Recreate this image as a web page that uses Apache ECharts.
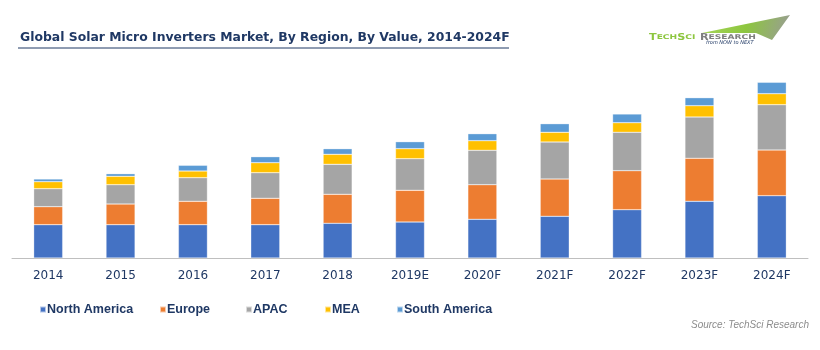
<!DOCTYPE html>
<html lang="en">
<head>
  <meta charset="UTF-8">
  <title>Global Solar Micro Inverters Market</title>
  <script src="https://cdn.jsdelivr.net/npm/echarts@6/dist/echarts.min.js"></script>
  <style>
    html, body { margin: 0; padding: 0; background: #fff; }
  </style>
</head>
<body>
  <div id="main" style="width:820px;height:350px"></div>

  <script>
    // categories and segment values (no axis so relative units)
    var years = ['2014', '2015', '2016', '2017', '2018', '2019E', '2020F', '2021F', '2022F', '2023F', '2024F']
    var northAmerica = [33.3, 33.3, 33.3, 33.3, 34.7, 36.0, 38.7, 41.7, 48.3, 56.7, 62.3]
    var europe = [18.0, 20.7, 23.4, 26.4, 29.0, 31.7, 34.6, 37.3, 39.0, 43.0, 45.7]
    var apac = [18.0, 19.3, 23.6, 25.6, 30.0, 31.6, 34.4, 37.0, 38.4, 41.3, 45.3]
    var mea = [7.0, 8.4, 6.7, 10.0, 10.0, 10.0, 9.6, 9.7, 9.6, 11.3, 11.0]
    var southAmerica = [2.7, 2.6, 5.7, 6.0, 5.6, 7.0, 7.0, 8.6, 8.7, 8.0, 11.4]

    var names = ['North America', 'Europe', 'APAC', 'MEA', 'South America']
    var colors = ['#4472C4', '#ED7D31', '#A5A5A5', '#FFC000', '#5B9BD5']
    var values = [northAmerica, europe, apac, mea, southAmerica]
    var legendLeft = [34, 154, 240, 319, 391]

    var myChart = echarts.init(document.getElementById('main'))

    var series = names.map(function (n, i) {
      return {
        name: n,
        type: 'bar',
        stack: 'total',
        barWidth: 29,
        data: values[i],
        itemStyle: { color: colors[i], borderColor: 'rgba(255,255,255,0.6)', borderWidth: 0.5 }
      }
    })

    // one legend per item so each sits where it does in the picture
    var legends = names.map(function (n, i) {
      return {
        data: [n],
        top: 298,
        left: legendLeft[i],
        itemWidth: 6,
        itemHeight: 6,
        icon: 'rect',
        textStyle: {
          fontFamily: 'Liberation Sans',
          fontSize: 12.5,
          fontWeight: 'bold',
          color: '#1F3864',
          padding: [0, 0, 0, -4]
        }
      }
    })

    var options = {
      animation: false,
      color: colors,
      title: {
        text: 'Global Solar Micro Inverters Market, By Region, By Value, 2014-2024F',
        left: 20,
        top: 31.5,
        padding: 0,
        textStyle: {
          fontFamily: 'DejaVu Sans',
          fontSize: 12.4,
          fontWeight: 'bold',
          color: '#1F3864'
        }
      },
      legend: legends,
      grid: { left: 12, right: 12, top: 58, bottom: 92 },
      xAxis: {
        type: 'category',
        data: years,
        axisLine: { lineStyle: { color: '#BFBFBF' } },
        axisTick: { length: 4, lineStyle: { color: '#BFBFBF' } },
        axisLabel: {
          margin: 12,
          fontFamily: 'DejaVu Sans',
          fontSize: 12,
          color: '#1F3864'
        }
      },
      yAxis: {
        type: 'value',
        min: 0,
        max: 200,
        show: false,
        splitLine: { show: false }
      },
      graphic: [
        // title underline
        { type: 'line', shape: { x1: 18, y1: 48, x2: 509, y2: 48 }, style: { stroke: '#1F3864', lineWidth: 1 } },
        // logo swoosh
        {
          type: 'polygon',
          shape: { points: [[702, 33], [790, 15], [772, 40], [756, 33]] },
          style: {
            fill: new echarts.graphic.LinearGradient(0, 0, 1, 1, [
              { offset: 0, color: '#A8D65A' },
              { offset: 0.5, color: '#8DC63F' },
              { offset: 1, color: '#9A9A9A' }
            ])
          }
        },
        {
          type: 'text', x: 649, y: 31.5, scaleX: 1.4,
          style: {
            text: '{g1|T}{g2|ECH}{g1|S}{g2|CI} {r1|R}{r2|ESEARCH}',
            rich: {
              g1: { fontFamily: 'DejaVu Sans', fontSize: 8, fontWeight: 'bold', fill: '#8DC63F' },
              g2: { fontFamily: 'DejaVu Sans', fontSize: 6.5, fontWeight: 'bold', fill: '#8DC63F' },
              r1: { fontFamily: 'DejaVu Sans', fontSize: 8, fontWeight: 'bold', fill: '#7F7F7F' },
              r2: { fontFamily: 'DejaVu Sans', fontSize: 6.5, fontWeight: 'bold', fill: '#7F7F7F' }
            }
          }
        },
        {
          type: 'text', left: 706, top: 40,
          style: { text: 'from NOW to NEXT', font: 'italic 5px "DejaVu Sans"', fill: '#1F3864' }
        },
        // source
        {
          type: 'text', right: 11, top: 320,
          style: { text: 'Source: TechSci Research', font: 'italic 10px "Liberation Sans"', fill: '#8C8C8C' }
        }
      ],
      series: series
    }
    myChart.setOption(options)
  </script>
</body>
</html>
